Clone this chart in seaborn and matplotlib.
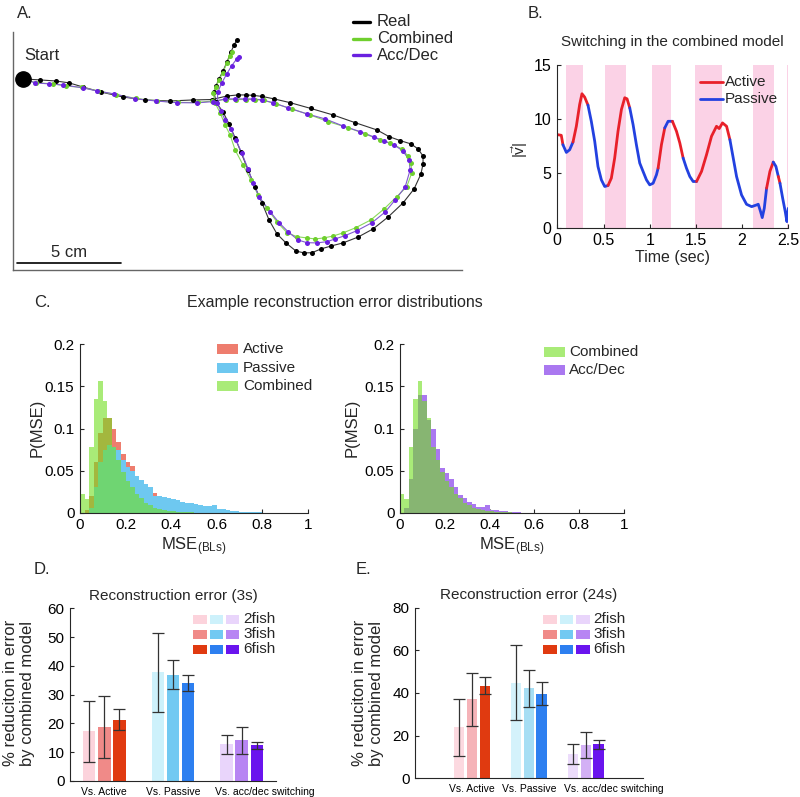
import numpy as np
import pandas as pd
import matplotlib
matplotlib.use("Agg")
import matplotlib.pyplot as plt
import seaborn as sns
from matplotlib.lines import Line2D
from matplotlib.patches import Rectangle

# ---------------- Panel A: trajectories (cm) ----------------
real_x = [0.47, 1.30, 2.05, 2.69, 3.36, 4.22, 5.28, 6.34, 7.54, 8.64, 9.55, 10.27, 10.80, 11.18, 11.52,
          11.95, 12.53, 13.30, 14.30, 15.36, 16.42, 17.47, 18.05, 18.58, 19.10, 19.44, 19.68, 19.68,
          19.58, 19.25, 18.72, 18.00, 17.28, 16.56, 15.84, 15.26, 14.78, 14.35, 13.97, 13.58, 13.10,
          12.67, 12.29, 11.95, 11.62, 11.28, 10.94, 10.66, 10.37, 10.08, 9.74, 9.65, 9.74, 9.89, 10.08,
          10.27, 10.46, 10.61, 10.75]
real_y = [9.17, 9.12, 9.07, 8.98, 8.78, 8.54, 8.30, 8.16, 8.11, 8.16, 8.18, 8.35, 8.40, 8.40, 8.38,
          8.33, 8.21, 8.03, 7.75, 7.44, 7.07, 6.72, 6.40, 6.21, 6.05, 5.81, 5.47, 5.09, 4.61, 3.89,
          3.22, 2.54, 1.97, 1.58, 1.30, 1.15, 1.01, 0.83, 0.82, 0.91, 1.30, 1.73, 2.40, 3.22, 3.98,
          4.80, 5.66, 6.34, 7.01, 7.58, 8.06, 8.54, 8.83, 9.17, 9.55, 9.98, 10.46, 10.80, 11.04]
comb_x = [0.47, 1.10, 1.92, 2.54, 3.31, 4.08, 4.94, 5.90, 6.91, 7.92, 8.88, 9.55, 10.22, 10.70, 11.18,
          11.62, 12.05, 12.62, 13.39, 14.26, 15.12, 16.08, 16.90, 17.62, 18.10, 18.66, 18.96, 19.10,
          19.14, 18.90, 18.42, 17.81, 17.17, 16.45, 15.84, 15.36, 14.93, 14.50, 14.10, 13.62, 13.15,
          12.66, 12.18, 11.76, 11.42, 11.04, 10.66, 10.42, 10.18, 9.94, 9.70, 9.60, 9.74, 9.89, 10.07,
          10.27, 10.42, 10.50]
comb_y = [9.17, 8.99, 8.93, 8.83, 8.76, 8.59, 8.42, 8.23, 8.11, 8.04, 8.04, 8.11, 8.18, 8.18, 8.18,
          8.18, 8.14, 7.97, 7.73, 7.44, 7.12, 6.83, 6.53, 6.24, 6.10, 5.81, 5.47, 5.15, 4.66, 4.00,
          3.52, 2.93, 2.40, 2.03, 1.78, 1.63, 1.54, 1.49, 1.54, 1.60, 1.79, 2.32, 2.98, 3.60, 4.32,
          5.04, 5.76, 6.48, 6.96, 7.54, 8.02, 8.50, 8.80, 9.12, 9.47, 9.94, 10.27, 10.48]
acc_x = [0.47, 1.06, 1.73, 2.40, 3.36, 4.03, 4.85, 5.86, 6.86, 7.87, 8.83, 9.60, 10.18, 10.66, 11.14,
         11.52, 11.95, 12.48, 13.20, 14.11, 14.98, 15.84, 16.66, 17.33, 17.81, 18.29, 18.72, 19.01,
         19.06, 18.82, 18.34, 17.86, 17.23, 16.51, 15.94, 15.46, 15.07, 14.59, 14.11, 13.68, 13.20,
         12.77, 12.34, 11.81, 11.52, 11.28, 10.98, 10.70, 10.45, 10.18, 9.98, 9.79, 9.84, 10.02, 10.26,
         10.50, 10.74, 10.85]
acc_y = [9.17, 8.98, 8.93, 8.88, 8.74, 8.59, 8.45, 8.22, 8.11, 8.03, 8.02, 8.08, 8.21, 8.21, 8.21,
         8.21, 8.16, 8.03, 7.78, 7.49, 7.25, 6.91, 6.64, 6.38, 6.19, 6.00, 5.71, 5.28, 4.80, 3.98,
         3.36, 2.78, 2.27, 1.89, 1.65, 1.49, 1.36, 1.30, 1.31, 1.44, 1.84, 2.27, 2.80, 3.52, 4.18,
         4.85, 5.62, 6.24, 6.77, 7.20, 7.63, 8.03, 8.56, 8.98, 9.41, 9.81, 10.13, 10.24]
traj_labels = ["Real", "Combined", "Acc/Dec"]

# ---------------- Panel B: speed over time ----------------
time_s = [0.0, 0.043, 0.061, 0.098, 0.134, 0.17, 0.206, 0.242, 0.267, 0.296, 0.332, 0.368, 0.405, 0.44,
          0.477, 0.513, 0.549, 0.585, 0.621, 0.657, 0.694, 0.73, 0.755, 0.784, 0.82, 0.856, 0.892,
          0.928, 0.965, 1.0, 1.037, 1.073, 1.091, 1.127, 1.163, 1.199, 1.246, 1.29, 1.326, 1.362,
          1.398, 1.434, 1.47, 1.507, 1.561, 1.615, 1.669, 1.723, 1.752, 1.788, 1.832, 1.868, 1.904,
          1.94, 1.994, 2.048, 2.103, 2.157, 2.175, 2.2, 2.218, 2.24, 2.265, 2.301, 2.337, 2.366,
          2.392, 2.41, 2.439, 2.467, 2.485, 2.5]
speed = [8.58, 8.52, 7.65, 6.94, 7.19, 7.9, 9.35, 11.36, 12.35, 12.04, 11.3, 9.81, 7.96, 5.65, 4.41,
         3.8, 3.89, 4.57, 6.42, 8.89, 10.9, 11.98, 11.88, 11.05, 9.51, 7.65, 5.96, 5.19, 4.41, 3.95,
         4.1, 4.88, 5.49, 7.65, 9.2, 9.81, 9.81, 8.89, 7.81, 6.42, 5.49, 4.72, 4.26, 4.26, 5.19, 6.73,
         8.43, 9.35, 9.14, 9.66, 9.35, 8.12, 6.42, 4.72, 3.02, 2.16, 1.94, 2.1, 2.16, 1.48, 0.93, 1.79,
         3.64, 5.19, 6.05, 5.65, 4.72, 4.1, 2.72, 1.48, 0.56, 1.79]
mode_seq = "AAPPPAAAAAPPPPPPAAAAAAAPPPPPPPPPAAPPAAAPPPPAAAAAAAAPPPPPPPPPPPAAPPAPPPPP"
band_start = [0.092, 0.515, 1.025, 1.491, 2.12, 2.482]
band_end = [0.273, 0.742, 1.226, 1.786, 2.345, 2.505]

# ---------------- Panel C: histograms (bin width 0.02) ----------------
hist_active = [0.0, 0.003, 0.02, 0.06, 0.095, 0.113, 0.112, 0.1, 0.084, 0.07, 0.06, 0.055, 0.042,
               0.037, 0.032, 0.028, 0.023, 0.02, 0.017, 0.016, 0.014, 0.012, 0.011, 0.009, 0.008,
               0.007, 0.006, 0.005, 0.004, 0.005, 0.003, 0.003, 0.002, 0.001, 0.001, 0.001, 0.0005]
hist_passive = [0.0, 0.0, 0.005, 0.03, 0.06, 0.075, 0.08, 0.078, 0.075, 0.063, 0.054, 0.05, 0.043,
                0.039, 0.034, 0.03, 0.02, 0.02, 0.019, 0.018, 0.016, 0.015, 0.013, 0.012, 0.011, 0.01,
                0.009, 0.008, 0.008, 0.009, 0.004, 0.004, 0.003, 0.002, 0.002, 0.001, 0.001, 0.0005,
                0.0003, 0.0003]
hist_combined = [0.022, 0.016, 0.078, 0.135, 0.157, 0.133, 0.112, 0.078, 0.062, 0.048, 0.038, 0.030,
                 0.022, 0.017, 0.012, 0.009, 0.006, 0.004, 0.003, 0.002, 0.0015, 0.001, 0.0008,
                 0.0005, 0.0003]
hist_accdec = [0.0, 0.005, 0.04, 0.1, 0.14, 0.14, 0.11, 0.1, 0.076, 0.053, 0.047, 0.04, 0.03, 0.021,
               0.017, 0.013, 0.01, 0.007, 0.007, 0.009, 0.003, 0.003, 0.002, 0.002, 0.001, 0.001,
               0.0005]

# ---------------- Panels D/E: bars ----------------
bar_cats = ["Vs. Active", "Vs. Passive", "Vs. acc/dec switching"]
fish_labels = ["2fish", "3fish", "6fish"]
mean_3s = [[17.3, 18.8, 21.3], [37.7, 37.0, 34.1], [12.7, 14.1, 12.4]]
err_3s = [[10.6, 10.7, 3.65], [13.7, 5.2, 2.7], [3.45, 4.7, 1.25]]
mean_24s = [[23.9, 37.0, 43.4], [44.8, 42.3, 39.7], [11.4, 15.5, 15.9]]
err_24s = [[13.4, 12.4, 4.0], [17.5, 8.7, 5.3], [4.6, 6.1, 2.1]]

# ---------------- styling ----------------
sns.set_style("white")
plt.rcParams["font.family"] = ["Liberation Sans", "DejaVu Sans"]
plt.rcParams["mathtext.fontset"] = "custom"
plt.rcParams["mathtext.rm"] = "Liberation Sans"
plt.rcParams["mathtext.it"] = "Liberation Sans:italic"

W, H = 800, 797
fig = plt.figure(figsize=(8, 7.97), dpi=100)


def rect(l, t, r, b):
    return [l / W, 1 - b / H, (r - l) / W, (b - t) / H]


def P(x, y):
    return (x / W, 1 - y / H)


def style_axes(ax, labelsize=11):
    for s in ["top", "right"]:
        ax.spines[s].set_visible(False)
    for s in ["left", "bottom"]:
        ax.spines[s].set_color("#262626")
        ax.spines[s].set_linewidth(0.8)
    ax.tick_params(direction="in", length=3, width=0.8, labelsize=labelsize, pad=4,
                   colors="#262626", labelcolor="black", bottom=True, left=True)


# ---------------- Panel A ----------------
axA = fig.add_axes(rect(13, 32, 462, 270))
traj_style = [(real_x, real_y, "#333333", "black"),
              (comb_x, comb_y, "#8ad95a", "#6fcf2e"),
              (acc_x, acc_y, "#8058d0", "#6a20e0")]
for xs, ys, lc, dc in traj_style:
    df = pd.DataFrame({"x": xs, "y": ys})
    sns.lineplot(data=df, x="x", y="y", sort=False, estimator=None, color=lc, lw=0.8, ax=axA)
    sns.scatterplot(data=df.iloc[1:], x="x", y="y", color=dc, s=13, linewidth=0, ax=axA, zorder=3)
axA.plot(real_x[0], real_y[0], "o", ms=11, color="black", zorder=5)
axA.set_xlim(0, 21.55)
axA.set_ylim(0, 11.42)
axA.set_xticks([])
axA.set_yticks([])
axA.set_xlabel("")
axA.set_ylabel("")
for s in ["top", "right"]:
    axA.spines[s].set_visible(False)
for s in ["left", "bottom"]:
    axA.spines[s].set_color("#666666")
    axA.spines[s].set_linewidth(1.0)
axA.plot([0.2, 5.2], [0.35, 0.35], color="black", lw=1.2)
axA.text(2.7, 0.5, "5 cm", ha="center", va="bottom", fontsize=12)
axA.text(0.53, 10.3, "Start", ha="left", va="center", fontsize=12)
for i, (lab, (_, _, lc, dc)) in enumerate(zip(traj_labels, traj_style)):
    y = 22 + i * 16.5
    fig.add_artist(Line2D([353 / W, 370 / W], [1 - y / H] * 2, color=dc, lw=2.4,
                          transform=fig.transFigure))
    fig.text(*P(377, y), lab, ha="left", va="center", fontsize=12)

# ---------------- Panel B ----------------
axB = fig.add_axes(rect(557.3, 65, 788.3, 227.7))
for s0, s1 in zip(band_start, band_end):
    axB.axvspan(s0, s1, color="#fbd2e6", lw=0, zorder=0)
mode_color = {"A": "#e8202a", "P": "#2341e0"}
n = len(time_s)
i = 0
while i < n - 1:
    j = i
    while j < n - 1 and mode_seq[j] == mode_seq[i]:
        j += 1
    seg = pd.DataFrame({"t": time_s[i:j + 1], "v": speed[i:j + 1]})
    sns.lineplot(data=seg, x="t", y="v", sort=False, estimator=None,
                 color=mode_color[mode_seq[i]], lw=2, ax=axB)
    i = j
axB.set_xlim(0, 2.5)
axB.set_ylim(0, 15)
axB.set_xticks([0, 0.5, 1, 1.5, 2, 2.5])
axB.set_xticklabels(["0", "0.5", "1", "1.5", "2", "2.5"])
axB.set_yticks([0, 5, 10, 15])
axB.set_yticklabels(["0", "5", "10", "15"])
style_axes(axB, 11.5)
axB.set_xlabel("Time (sec)", fontsize=11.5, labelpad=1)
axB.set_ylabel("")
fig.text(*P(520, 150), r"$|\vec{\mathrm{v}}|$", rotation=90, ha="center", va="center", fontsize=11)
axB.set_title("Switching in the combined model", fontsize=11, pad=14)
for k, lab in enumerate(["Active", "Passive"]):
    y = 81.7 + k * 17.6
    fig.add_artist(Line2D([700 / W, 723 / W], [1 - y / H] * 2, color=mode_color[lab[0]], lw=2,
                          transform=fig.transFigure))
    fig.text(*P(725, y), lab, ha="left", va="center", fontsize=11)

# ---------------- Panel C ----------------
edges = np.linspace(0, 1, 51)
centers = (edges[:-1] + edges[1:]) / 2


def pad50(a):
    return np.pad(np.asarray(a, float), (0, 50 - len(a)))


c_active, c_passive, c_comb, c_acc = "#ee7d6e", "#6ec8f0", "#71de1e", "#aa78f0"
comb_alpha = 0.6

axC1 = fig.add_axes(rect(80, 344.3, 307.7, 512.7))
axC2 = fig.add_axes(rect(400, 344.3, 624, 512.7))
for ax, layers in [(axC1, [(hist_active, c_active, 1.0), (hist_passive, c_passive, 1.0),
                           (hist_combined, c_comb, comb_alpha)]),
                   (axC2, [(hist_accdec, c_acc, 1.0), (hist_combined, c_comb, comb_alpha)])]:
    for vals, col, al in layers:
        hdf = pd.DataFrame({"mse": centers, "p": pad50(vals)})
        sns.histplot(data=hdf, x="mse", weights="p", binwidth=0.02, binrange=(0, 1),
                     color=col, alpha=al, linewidth=0, ax=ax)
    ax.set_xlim(0, 1)
    ax.set_ylim(0, 0.2)
    ax.set_xticks([0, 0.2, 0.4, 0.6, 0.8, 1])
    ax.set_xticklabels(["0", "0.2", "0.4", "0.6", "0.8", "1"])
    ax.set_yticks([0, 0.05, 0.1, 0.15, 0.2])
    ax.set_yticklabels(["0", "0.05", "0.1", "0.15", "0.2"])
    style_axes(ax, 11)
    ax.set_xlabel(r"MSE$_{\mathregular{(BLs)}}$", fontsize=12, labelpad=2)
    ax.set_ylabel("")
for cx in [37, 352]:
    fig.text(*P(cx, 428), "P(MSE)", rotation=90, ha="center", va="center", fontsize=12)

fig.text(*P(335, 302), "Example reconstruction error distributions", ha="center", va="center",
         fontsize=11.5)
for k, (lab, col, al) in enumerate([("Active", c_active, 1.0), ("Passive", c_passive, 1.0),
                                     ("Combined", c_comb, comb_alpha)]):
    y = 349 + k * 18.5
    fig.add_artist(Rectangle((217 / W, 1 - (y + 5) / H), 21 / W, 10 / H, color=col, alpha=al,
                             lw=0, transform=fig.transFigure))
    fig.text(*P(243, y), lab, ha="left", va="center", fontsize=11)
for k, (lab, col, al) in enumerate([("Combined", c_comb, comb_alpha), ("Acc/Dec", c_acc, 1.0)]):
    y = 352 + k * 18.5
    fig.add_artist(Rectangle((544 / W, 1 - (y + 5) / H), 21 / W, 10 / H, color=col, alpha=al,
                             lw=0, transform=fig.transFigure))
    fig.text(*P(569, y), lab, ha="left", va="center", fontsize=11)

# ---------------- Panels D / E ----------------
legend_cols = [["#fcd3dc", "#cdf1fb", "#e9d5fb"],
               ["#f08a88", "#72c9f2", "#b785f3"],
               ["#e03a10", "#2d7ff0", "#6a14ee"]]
d_cols = [["#fcd3dc", "#f08a88", "#e03a10"],
          ["#cdf1fb", "#72c9f2", "#2d7ff0"],
          ["#e9d5fb", "#b785f3", "#6a14ee"]]
e_cols = [["#fcd9e0", "#f5b3b8", "#e03a10"],
          ["#d4f2fb", "#a6def4", "#2d7ff0"],
          ["#ecdcfb", "#d3b0f5", "#6a14ee"]]


def bar_panel(ax, means, errs, cols, xlim, ymax, ystep, title, offs, width, lab3_shift):
    for g in range(3):
        for f in range(3):
            x = g + 1 + (f - 1) * offs
            ax.bar(x, means[g][f], width=width, color=cols[g][f], lw=0)
            ax.errorbar(x, means[g][f], yerr=errs[g][f], fmt="none", ecolor="#333333",
                        elinewidth=0.9, capsize=4, capthick=0.9)
    ax.set_xlim(*xlim)
    ax.set_ylim(0, ymax)
    ax.set_yticks(np.arange(0, ymax + 1, ystep))
    ax.set_xticks([1, 2, 3 + lab3_shift])
    ax.set_xticklabels(bar_cats, fontsize=7.5)
    style_axes(ax, 11)
    ax.tick_params(axis="x", length=0, labelsize=7.5, pad=4)
    ax.set_title(title, fontsize=11, pad=6)


axD = fig.add_axes(rect(70, 608.3, 276, 781))
bar_panel(axD, mean_3s, err_3s, d_cols, (0.5, 3.5), 60, 10, "Reconstruction error (3s)",
          0.219, 0.18, 0.34)
axE = fig.add_axes(rect(415, 607.7, 642.7, 778.3))
bar_panel(axE, mean_24s, err_24s, e_cols, (0.0, 4.0), 80, 20, "Reconstruction error (24s)",
          0.224, 0.18, 0.49)

for cx, tx, colx in [(19, 243, [193, 209.5, 226]), (368, 593, [543, 559.5, 576])]:
    fig.text(*P(cx, 693), "% reduciton in error\nby combined model", rotation=90, ha="center",
             va="center", fontsize=12, linespacing=1.1)
    for r, lab in enumerate(fish_labels):
        y = 619 + r * 15
        for c in range(3):
            fig.add_artist(Rectangle((colx[c] / W, 1 - (y + 4.5) / H), 13.5 / W, 9 / H,
                                     color=legend_cols[r][c], lw=0, transform=fig.transFigure))
        fig.text(*P(tx, y), lab, ha="left", va="center", fontsize=11)

# panel letters
for lab, x, y in [("A.", 17, 13), ("B.", 528, 13), ("C.", 34, 302), ("D.", 34, 570), ("E.", 356, 570)]:
    fig.text(*P(x, y), lab, ha="left", va="center", fontsize=12)

fig.savefig("out.png", dpi=100)
